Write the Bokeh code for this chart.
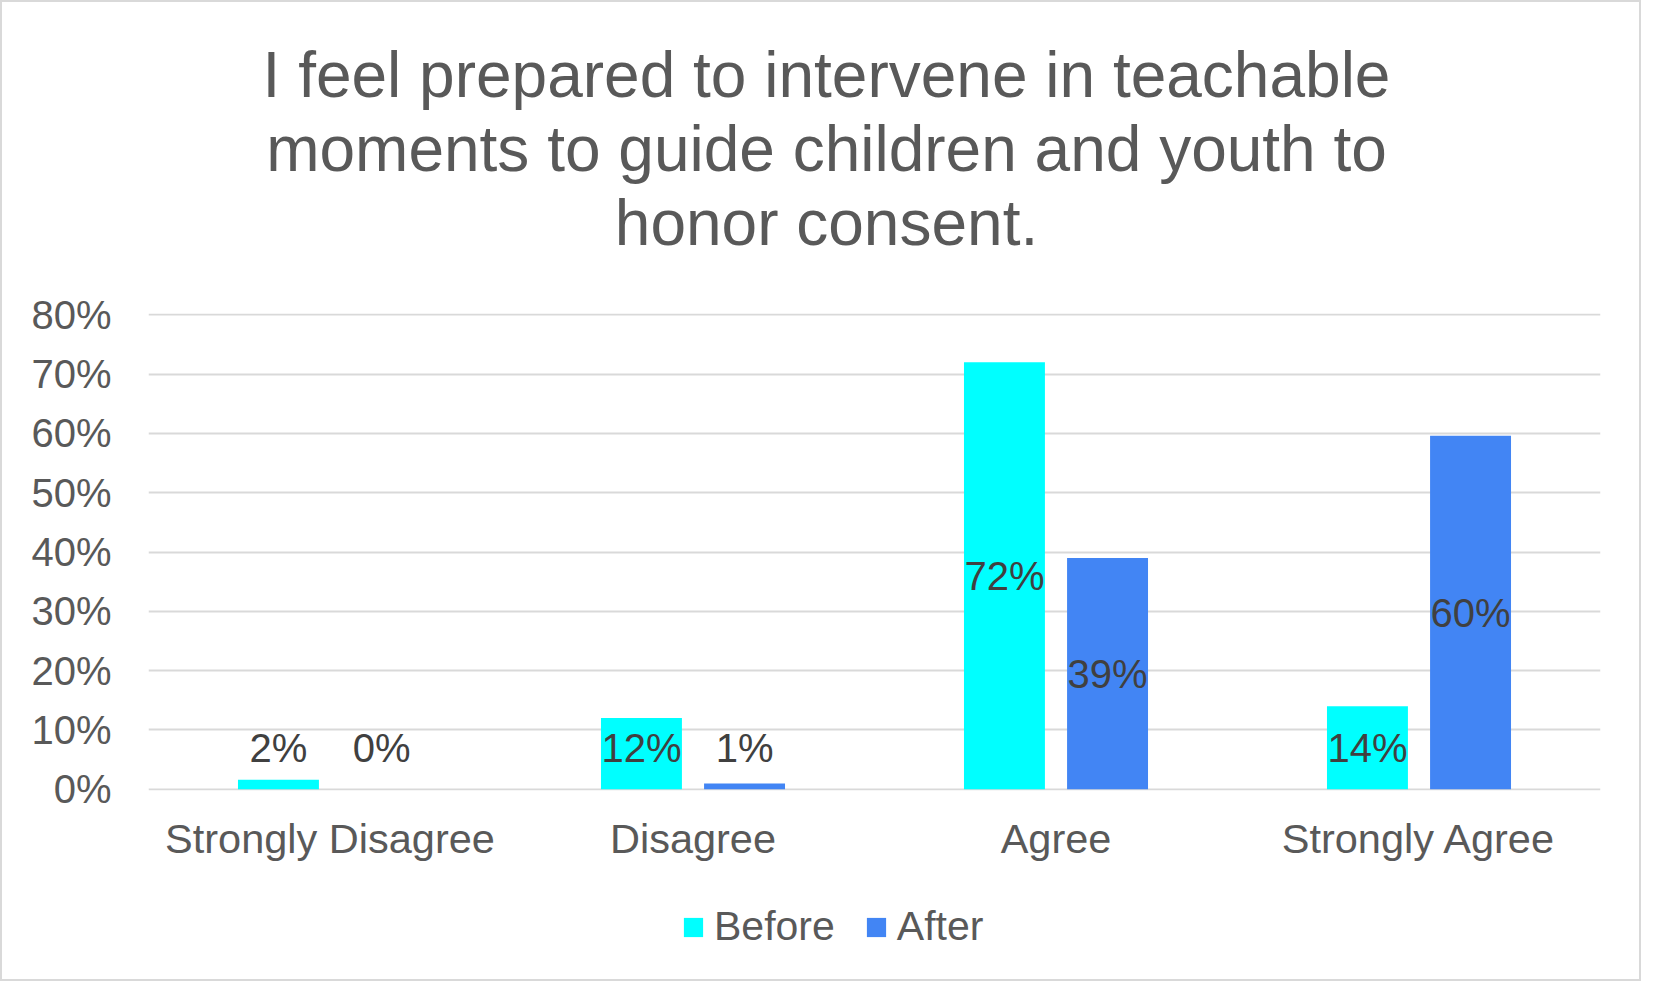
from bokeh.plotting import figure
from bokeh.layouts import column
from bokeh.models import (ColumnDataSource, FactorRange, Range1d, Legend, LegendItem,
                          NumeralTickFormatter, FixedTicker)
from bokeh.transform import dodge
from bokeh.core.properties import value
from bokeh.embed import file_html
from bokeh.resources import INLINE

# ---- data ----
categories = ["Strongly Disagree", "Disagree", "Agree", "Strongly Agree"]
before = [0.016, 0.12, 0.72, 0.14]
after = [0.0, 0.01, 0.39, 0.596]
series_names = ["Before", "After"]
series_colors = ["#00FFFF", "#4285F4"]
y_ticks = [0.0, 0.1, 0.2, 0.3, 0.4, 0.5, 0.6, 0.7, 0.8]
title_lines = ["I feel prepared to intervene in teachable",
               "moments to guide children and youth to",
               "honor consent."]

FONT = "Liberation Sans"
GREY = "#595959"
LABEL_MIN = 0.07  # minimum label centre (data units) so text stays above axis
W = 1637
FRAME_L, FRAME_R = 146, 1598   # pixel extent of the plotting frame (shared by column)
TITLE_H = 270

# ---------- title strip (pixel coordinate system, y measured from top) ----------
pt = figure(width=W, height=TITLE_H, output_backend="svg", toolbar_location=None,
            x_axis_type=None, y_axis_type=None,
            x_range=Range1d(FRAME_L, FRAME_R), y_range=Range1d(TITLE_H, 0),
            min_border_left=FRAME_L, min_border_right=W - FRAME_R,
            min_border_top=0, min_border_bottom=0)
pt.outline_line_color = None
pt.grid.visible = False
pt.title.visible = False
title_center_x = 824
title_line_y = [72, 146, 220]
pt.text(x=[title_center_x] * len(title_lines), y=title_line_y, text=title_lines,
        text_align="center", text_baseline="middle",
        text_font=value(FONT), text_font_size="64px", text_color=GREY)

# ---------- chart ----------
src = ColumnDataSource(dict(
    cat=categories,
    before=before,
    after=after,
    before_lbl=[f"{v:.0%}" for v in before],
    after_lbl=[f"{v:.0%}" for v in after],
    before_y=[max(v / 2, LABEL_MIN) for v in before],
    after_y=[max(v / 2, LABEL_MIN) for v in after],
))

p = figure(x_range=FactorRange(*categories), y_range=Range1d(-0.002, 0.802),
           width=W, height=610, output_backend="svg", toolbar_location=None,
           min_border_left=FRAME_L, min_border_right=W - FRAME_R, min_border_top=41,
           min_border_bottom=92)
p.outline_line_color = None
p.title.visible = False

bw = 0.223
off = 0.142
r1 = p.vbar(x=dodge("cat", -off, range=p.x_range), top="before", width=bw,
            source=src, fill_color=series_colors[0], line_color=None)
r2 = p.vbar(x=dodge("cat", off, range=p.x_range), top="after", width=bw,
            source=src, fill_color=series_colors[1], line_color=None)

for xo, ycol, tcol in [(-off, "before_y", "before_lbl"), (off, "after_y", "after_lbl")]:
    p.text(x=dodge("cat", xo, range=p.x_range), y=ycol, text=tcol, source=src,
           text_align="center", text_baseline="middle",
           text_font=value(FONT), text_font_size="40px", text_color="#404040")

p.yaxis.ticker = FixedTicker(ticks=y_ticks)
p.yaxis.formatter = NumeralTickFormatter(format="0%")
p.yaxis.axis_line_color = None
p.yaxis.major_tick_line_color = None
p.yaxis.minor_tick_line_color = None
p.yaxis.major_label_text_font = FONT
p.yaxis.major_label_text_font_size = "40px"
p.yaxis.major_label_text_color = GREY
p.yaxis.major_label_standoff = 31

p.xaxis.axis_line_color = None
p.xaxis.major_tick_line_color = None
p.xaxis.minor_tick_line_color = None
p.xaxis.major_label_text_font = FONT
p.xaxis.major_label_text_font_size = "41.5px"
p.xaxis.major_label_text_color = GREY
p.xaxis.major_label_standoff = 18

p.xgrid.grid_line_color = None
p.ygrid.ticker = FixedTicker(ticks=y_ticks)
p.ygrid.grid_line_color = "#d9d9d9"
p.ygrid.grid_line_width = 2

# ---------- legend strip ----------
pl = figure(width=W, height=97, output_backend="svg", toolbar_location=None,
            x_axis_type=None, y_axis_type=None, x_range=Range1d(0, 1),
            y_range=Range1d(0, 1), min_border_left=FRAME_L,
            min_border_right=W - FRAME_R, min_border_top=0, min_border_bottom=0)
pl.outline_line_color = None
pl.grid.visible = False
pl.title.visible = False
# zero-height proxy renderers; only their legend swatches show
lr = [pl.vbar(x=[0.5], top=[0], bottom=[0], width=0.0, fill_color=c,
              line_color=None, fill_alpha=1.0) for c in series_colors]
legend = Legend(items=[LegendItem(label=n, renderers=[r]) for n, r in zip(series_names, lr)],
                orientation="horizontal", location=(679 - FRAME_L, 29),
                glyph_width=24, glyph_height=24, label_standoff=9, spacing=29,
                padding=0, margin=0, border_line_color=None,
                background_fill_alpha=0,
                label_text_font=FONT, label_text_font_size="41px",
                label_text_color=GREY)
pl.add_layout(legend)

layout = column(pt, p, pl, spacing=0)
layout.styles = {"border": "2px solid #d9d9d9", "background-color": "white"}

open("out.html", "w").write(file_html(layout, INLINE))
